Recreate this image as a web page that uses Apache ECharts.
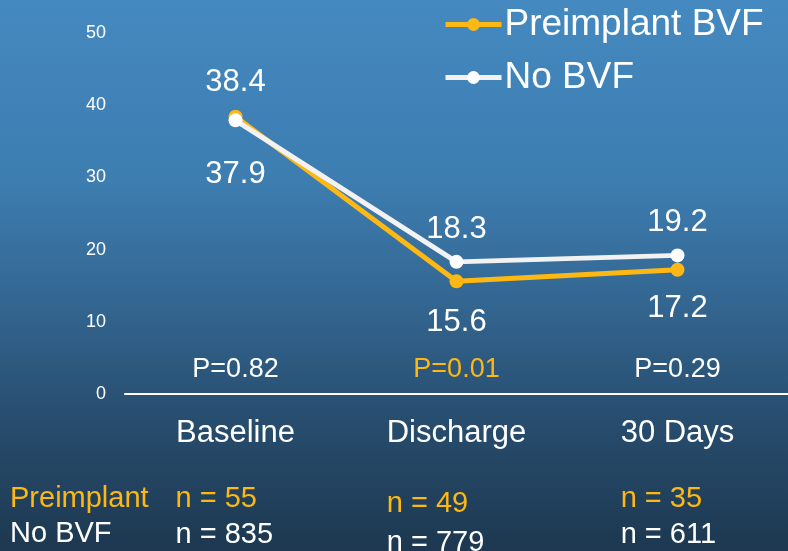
<!DOCTYPE html>
<html>
<head>
<meta charset="utf-8">
<script src="https://cdn.jsdelivr.net/npm/echarts@6/dist/echarts.min.js"></script>
<style>
  html, body { margin: 0; padding: 0; }
  #chart { width: 788px; height: 551px; }
</style>
</head>
<body>
<div id="chart"></div>
<script>
// Time points and mean values per group
const categories = ['Baseline', 'Discharge', '30 Days'];
const preimplantValues = [38.4, 15.6, 17.2];
const noBvfValues = [37.9, 18.3, 19.2];
const pValues = ['P=0.82', 'P=0.01', 'P=0.29'];
const pSignificant = [false, true, false];
const preimplantN = [55, 49, 35];
const noBvfN = [835, 779, 611];
const yTicks = [0, 10, 20, 30, 40, 50];

// Label placement per point: above or below the marker
const preimplantLabelPos = ['top', 'bottom', 'bottom'];
const noBvfLabelPos = ['bottom', 'top', 'top'];

// Layout of the sample-size block under each category
const nBlockWidth = [120, 108, 103];
const nLineHeightTop = [36, 46, 36];
const nLineHeightBottom = [36, 32, 36];

const YELLOW = '#FDB813';
const WHITE = '#F2F2F2';
const NARROW = "'Liberation Sans Narrow', 'Liberation Sans', Arial, sans-serif";
const SANS = "'Liberation Sans', Arial, sans-serif";

const chart = echarts.init(document.getElementById('chart'), null, { renderer: 'canvas' });

function seriesData(values, positions, distances) {
  return values.map((v, i) => ({
    value: v,
    label: { position: positions[i], distance: distances[i] }
  }));
}

// Rich styles for the category label block, one set per category
const rich = {
  c: { color: '#ffffff', fontSize: 31, fontFamily: SANS, lineHeight: 36, align: 'center' },
  g: { height: 30, lineHeight: 30 }
};
categories.forEach((_, i) => {
  rich['y' + i] = {
    color: YELLOW, fontSize: 29, fontFamily: NARROW, lineHeight: nLineHeightTop[i],
    width: nBlockWidth[i], align: 'left'
  };
  rich['w' + i] = {
    color: '#ffffff', fontSize: 29, fontFamily: NARROW, lineHeight: nLineHeightBottom[i],
    width: nBlockWidth[i], align: 'left'
  };
});

const option = {
  backgroundColor: {
    type: 'linear', x: 0, y: 0, x2: 0, y2: 1,
    colorStops: [
      { offset: 0, color: '#4489c0' },
      { offset: 0.33, color: '#3d7db0' },
      { offset: 0.55, color: '#336691' },
      { offset: 0.77, color: '#274c6d' },
      { offset: 1, color: '#1d3850' }
    ]
  },
  animation: false,
  grid: {
    left: 125, right: 0, top: 33, bottom: 157,
    containLabel: false,
    outerBoundsMode: 'none'
  },
  legend: {
    orient: 'vertical',
    left: 443,
    top: 6,
    padding: 0,
    itemWidth: 56,
    itemHeight: 16,
    itemGap: 16,
    lineStyle: { width: 5 },
    textStyle: { color: '#ffffff', fontSize: 37, fontFamily: SANS, padding: [0, 0, 0, -2] },
    data: ['Preimplant BVF', 'No BVF']
  },
  xAxis: [
    {
      type: 'category',
      data: categories,
      boundaryGap: true,
      axisLine: { show: true, lineStyle: { color: '#ffffff', width: 2 } },
      axisTick: { show: false },
      axisLabel: {
        margin: 21,
        interval: 0,
        formatter: (val, idx) =>
          '{c|' + val + '}\n{g|}\n{y' + idx + '|n = ' + preimplantN[idx] + '}\n{w' + idx + '|n = ' + noBvfN[idx] + '}',
        rich: rich
      }
    },
    {
      // P-values shown just above the baseline of each time point
      type: 'category',
      data: pValues,
      position: 'bottom',
      boundaryGap: true,
      axisLine: { show: false },
      axisTick: { show: false },
      axisLabel: {
        inside: true,
        margin: 11,
        interval: 0,
        fontSize: 27,
        fontFamily: NARROW,
        color: (val, idx) => (pSignificant[idx] ? YELLOW : '#ffffff')
      }
    }
  ],
  yAxis: {
    type: 'value',
    min: 0,
    max: 50,
    interval: 10,
    axisLine: { show: false },
    axisTick: { show: false },
    splitLine: { show: false },
    axisLabel: {
      color: '#ffffff',
      fontSize: 18,
      fontFamily: SANS,
      margin: 19,
      formatter: v => (yTicks.includes(v) ? String(v) : '')
    }
  },
  series: [
    {
      name: 'Preimplant BVF',
      type: 'line',
      data: seriesData(preimplantValues, preimplantLabelPos, [12, 19, 16]),
      symbol: 'circle',
      symbolSize: 14,
      lineStyle: { color: YELLOW, width: 5 },
      itemStyle: { color: YELLOW },
      label: { show: true, color: '#ffffff', fontSize: 31, fontFamily: SANS },
      z: 2
    },
    {
      name: 'No BVF',
      type: 'line',
      data: seriesData(noBvfValues, noBvfLabelPos, [32, 10, 10]),
      symbol: 'circle',
      symbolSize: 14,
      lineStyle: { color: WHITE, width: 5 },
      itemStyle: { color: '#ffffff' },
      label: { show: true, color: '#ffffff', fontSize: 31, fontFamily: SANS },
      z: 3
    }
  ],
  graphic: [
    {
      type: 'text', left: 10, top: 484,
      style: { text: 'Preimplant', fill: YELLOW, fontSize: 29, fontFamily: NARROW }
    },
    {
      type: 'text', left: 10, top: 519,
      style: { text: 'No BVF', fill: '#ffffff', fontSize: 29, fontFamily: NARROW }
    }
  ]
};

chart.setOption(option);
</script>
</body>
</html>
